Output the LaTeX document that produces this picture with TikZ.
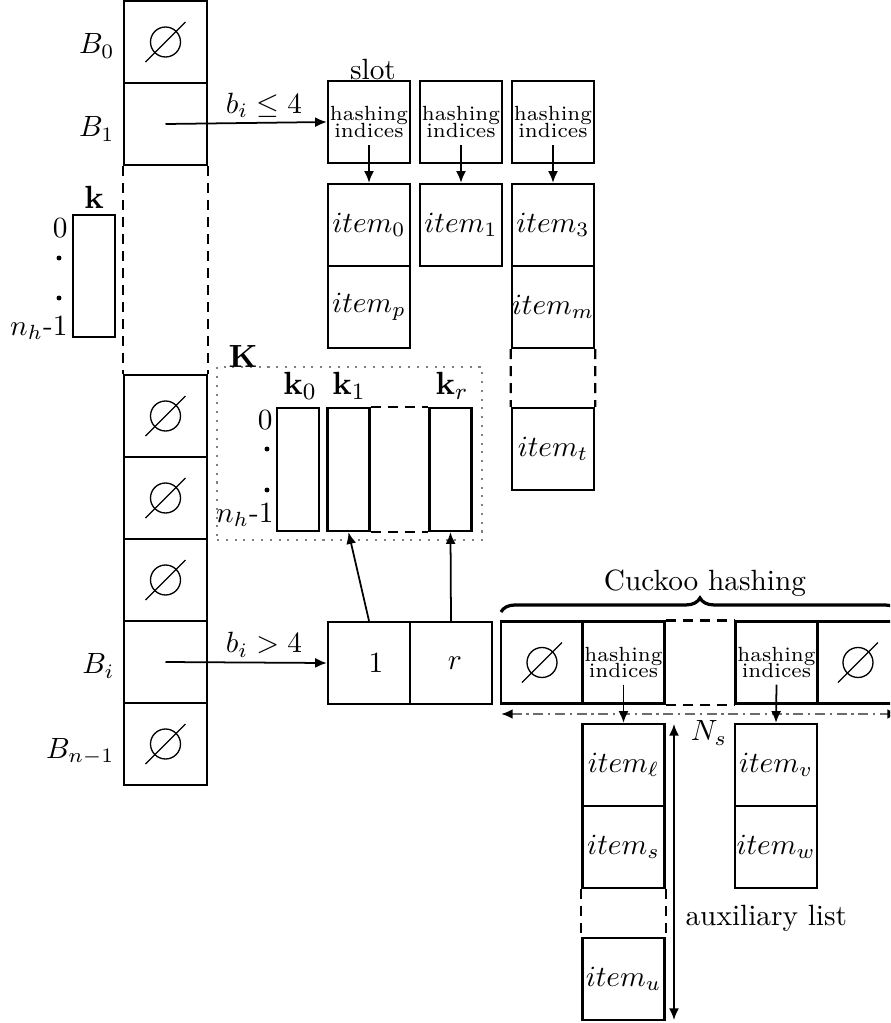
\documentclass[tikz,border=0pt]{standalone}
\usetikzlibrary{arrows.meta,calc,decorations.pathreplacing}
\begin{document}
\begin{tikzpicture}[x=0.3413pt,y=-0.3413pt,
  cell/.style={draw,line width=0.8pt,minimum width=27.99pt,minimum height=27.99pt,inner sep=0pt},
  bcell/.style={cell,minimum width=28.33pt},
  vecbox/.style={draw,line width=0.8pt,minimum width=14.33pt,minimum height=41.8pt,inner sep=0pt},
  tip/.style={},
  conn/.style={line width=0.6pt,-{Latex[length=4pt,width=3.4pt]}},
  gapline/.style={line width=0.8pt,dash pattern=on 3.4pt off 2.4pt},
  hashtxt/.style={align=center,font=\scriptsize},
  idx/.style={inner sep=0pt},
  lbl/.style={inner sep=0pt,anchor=east},
  boldlbl/.style={font=\fontsize{11}{13}\selectfont},
  nullmark/.pic={\draw[line width=0.45pt] (0,0) circle[radius=5.12pt];
                 \draw[line width=0.45pt] (-20,20) -- (20,-20);}
]
\clip (0,0) rectangle (890,1023);

% ---- bucket column
\node[bcell] (B0) at (165.5,42) {};
\node[bcell] (B1) at (165.5,124) {};
\node[bcell] (E1) at (165.5,416) {};
\node[bcell] (E2) at (165.5,498) {};
\node[bcell] (E3) at (165.5,580) {};
\node[bcell] (Bi) at (165.5,662) {};
\node[bcell] (Bn) at (165.5,744) {};
\pic at (B0) {nullmark};
\pic at (E1) {nullmark};
\pic at (E2) {nullmark};
\pic at (E3) {nullmark};
\pic at (Bn) {nullmark};
\draw[gapline] (B1.south west) -- (E1.north west);
\draw[gapline] (B1.south east) -- (E1.north east);
\node[lbl] (lB0) at (115,46) {$B_0$};
\node[lbl] (lB1) at (115,129) {$B_1$};
\node[lbl] (lBi) at (115,666) {$B_i$};
\node[lbl] (lBn) at (115,752) {$B_{n-1}$};

% ---- k vector
\node[vecbox] (kv) at (94,276) {};
\node[boldlbl] (klab) at (94,197) {$\mathbf{k}$};
\node[idx,anchor=east] (kv0) at (68,228) {$0$};
\fill (59,258) circle[radius=0.85pt];
\fill (59,298) circle[radius=0.85pt];
\node[idx,anchor=east] (kvn) at (68,328) {$n_h$-1};

% ---- K matrix
\node[draw=gray,line width=0.7pt,dash pattern=on 0.7pt off 2.3pt,minimum width=90.44pt,minimum height=59.05pt,inner sep=0pt] (Kbox) at (349.5,453.5) {};
\node[boldlbl] (Klab) at (243,356) {$\mathbf{K}$};
\node[vecbox,minimum height=41.98pt] (k0) at (298,469.5) {};
\node[vecbox,minimum height=41.98pt] (k1) at (348.5,469.5) {};
\node[vecbox,minimum height=41.98pt] (kr) at (450.5,469.5) {};
\node[boldlbl] (lk0) at (300,386) {$\mathbf{k}_0$};
\node[boldlbl] (lk1) at (349,386) {$\mathbf{k}_1$};
\node[boldlbl] (lkr) at (452,386) {$\mathbf{k}_r$};
\node[idx,anchor=east] (K0) at (273,420) {$0$};
\fill (267,449) circle[radius=0.85pt];
\fill (267,490) circle[radius=0.85pt];
\node[idx,anchor=east] (Kn) at (274,515) {$n_h$-1};
\draw[gapline] (k1.north east) -- (kr.north west);
\draw[gapline] (k1.south east) -- (kr.south west);

% ---- 1 / r
\node[cell] (one) at (369,663) {\hspace*{4.8pt}$1$};
\node[cell] (rr) at (451,663) {\hspace*{2.7pt}$r$};

% ---- slots
\node[cell,hashtxt] (h1) at (369,122) {hashing\\[-2.5pt]indices};
\node[cell,hashtxt] (h2) at (461,122) {hashing\\[-2.5pt]indices};
\node[cell,hashtxt] (h3) at (553,122) {hashing\\[-2.5pt]indices};
\node (slot) at (373,69) {slot};
\node[cell] (i0) at (369,225) {$item_0$};
\node[cell] (ip) at (369,307) {$item_p$};
\node[cell] (i1) at (461,225) {$item_1$};
\node[cell] (i3) at (553,225) {$item_3$};
\node[cell] (im) at (553,307) {$item_m$};
\node[cell] (it) at (553,449) {$item_t$};
\draw[gapline] (im.south west) -- (it.north west);
\draw[gapline] (im.south east) -- (it.north east);
\draw[conn] ($(h1.south)+(0,-19)$) -- (i0.north);
\draw[conn] ($(h2.south)+(0,-19)$) -- (i1.north);
\draw[conn] ($(h3.south)+(0,-19)$) -- (i3.north);

% ---- cuckoo table
\node[cell] (c1) at (542,662.5) {};
\node[cell,hashtxt] (c2) at (623.5,662.5) {hashing\\[-2.5pt]indices};
\node[cell,hashtxt] (c3) at (776.5,662.5) {hashing\\[-2.5pt]indices};
\node[cell] (c4) at (858,662.5) {};
\pic at (c1) {nullmark};
\pic at (c4) {nullmark};
\draw[gapline] (c2.north east) -- (c3.north west);
\draw[gapline] (c2.south east) -- (c3.south west);
\coordinate (brL) at (501,612);
\coordinate (brR) at (899,612);
\draw[line width=1.1pt,decorate,decoration={brace,amplitude=4.8pt}] (brL) -- (brR);
\node (cuck) at (705,583) {Cuckoo hashing};
\coordinate (nsL) at (501,714);
\coordinate (nsR) at (899,714);
\draw[gray!85!black,line width=0.8pt,dash pattern=on 3.4pt off 1.6pt on 0.8pt off 1.6pt,
  {Latex[length=4pt,width=3.4pt,black]}-{Latex[length=4pt,width=3.4pt,black]}] (nsL) -- (nsR);
\node (ns) at (709,733) {$N_s$};

\node[cell] (il) at (623.5,765) {$item_\ell$};
\node[cell] (is) at (623.5,847) {$item_s$};
\node[cell] (iu) at (623.5,979) {$item_u$};
\node[cell] (iv) at (776,765) {$item_v$};
\node[cell] (iw) at (776,847) {$item_w$};
\draw[gapline] (is.south west) -- (iu.north west);
\draw[gapline] (is.south east) -- (iu.north east);
\draw[conn] ($(c2.south)+(0,-20)$) -- (il.north);
\draw[conn] ($(c3.south)+(0,-20)$) -- (iv.north);
\coordinate (auxT) at (674,724);
\coordinate (auxB) at (674,1020);
\draw[line width=0.6pt,{Latex[length=4pt,width=3.4pt]}-{Latex[length=4pt,width=3.4pt]}] (auxT) -- (auxB);
\node[anchor=west,inner sep=0pt] (aux) at (685,918) {auxiliary list};

% ---- connectors from buckets
\draw[conn] (B1.center) -- node[pos=0.61,above,inner sep=1.5pt] (lble) {$b_i \le 4$} (h1.west);
\draw[conn] (Bi.center) -- node[pos=0.61,above,inner sep=1.5pt] (lbgt) {$b_i > 4$} (one.west);
\draw[conn] (one.north) -- (k1.south);
\draw[conn] (rr.north) -- (kr.south);
\end{tikzpicture}
\end{document}
